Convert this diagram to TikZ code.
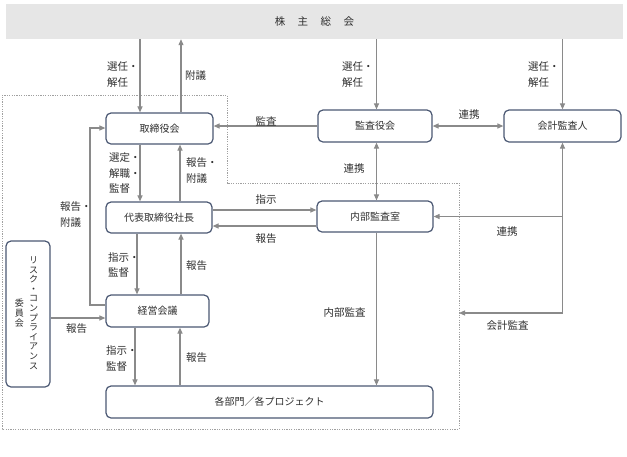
\documentclass[tikz,border=0pt]{standalone}
\usepackage{fontspec}
\setmainfont{Noto Sans CJK JP}
\usetikzlibrary{arrows.meta}
\definecolor{boxline}{HTML}{4B5873}
\definecolor{arrgray}{HTML}{8A8A8A}
\definecolor{txt}{HTML}{2E2E2E}
\definecolor{barfill}{HTML}{E6E6E6}
\definecolor{dotgray}{HTML}{A0A0A0}
\tikzset{
  orgbox/.style={draw=boxline, line width=1.2pt, rounded corners=5pt, fill=white,
    text=txt, font=\fontsize{10}{12}\selectfont, inner sep=0pt},
  arr/.style={draw=arrgray, line width=1.1pt, -{Triangle[length=6pt,width=5pt]}},
  arrb/.style={draw=arrgray, line width=1.1pt, {Triangle[length=6pt,width=5pt]}-{Triangle[length=6pt,width=5pt]}},
  lbl/.style={text=txt, font=\fontsize{10.5}{15.5}\selectfont, inner sep=0pt, align=left},
  vtxt/.style={text=txt, font=\fontsize{9}{9.6}\selectfont, inner sep=0pt, align=center},
}
\begin{document}
\begin{tikzpicture}[x=1pt,y=-1pt]
\useasboundingbox (0,0) rectangle (627,456);
% dotted company boundary
\draw[dotgray, line width=0.8pt, dash pattern=on 1.2pt off 1.2pt]
  (2,95) -- (227,95) -- (227,183) -- (459,183) -- (459,429) -- (2,429) -- cycle;
% top bar
\node[fill=barfill, minimum width=617pt, minimum height=35pt, inner sep=0pt,
  text=txt, font=\fontsize{10.5}{12}\selectfont] (bar) at (314.5,21.5)
  {株\hspace{12.5pt}主\hspace{12.5pt}総\hspace{12.5pt}会};
% boxes
\node[orgbox, minimum width=107pt, minimum height=31pt] (torishimari) at (159.5,128.5) {取締役会};
\node[orgbox, minimum width=106pt, minimum height=31pt] (shacho) at (159,217.5) {代表取締役社長};
\node[orgbox, minimum width=114pt, minimum height=32pt] (kansayaku) at (375,126) {監査役会};
\node[orgbox, minimum width=117pt, minimum height=32pt] (kaikei) at (562.5,126) {会計監査人};
\node[orgbox, minimum width=116pt, minimum height=31pt] (naibu) at (375,216.5) {内部監査室};
\node[orgbox, minimum width=103pt, minimum height=32pt] (keiei) at (157.5,311) {経営会議};
\node[orgbox, minimum width=327pt, minimum height=32pt] (kakubu) at (269.5,402) {各部門／各プロジェクト};
\node[orgbox, minimum width=44pt, minimum height=146pt] (risk) at (28,314) {};
\node[vtxt] (riskA) at (33.5,313) {リ\\ス\\ク\\・\\コ\\ン\\プ\\ラ\\イ\\ア\\ン\\ス};
\node[vtxt, font=\fontsize{9}{10}\selectfont] (riskB) at (19.5,313) {委\\員\\会};
% connectors
\draw[arr] (140,0 |- bar.south) -- (140,0 |- torishimari.north);
\draw[arr] (181,0 |- torishimari.north) -- (181,0 |- bar.south);
\draw[arr] (376.5,0 |- bar.south) -- (376.5,0 |- kansayaku.north);
\draw[arr] (562.5,0 |- bar.south) -- (kaikei.north);
\draw[arr] (kansayaku.west) -- (torishimari.east |- kansayaku.west);
\draw[arrb] (kansayaku.east) -- (kaikei.west);
\draw[arrb] (376.5,0 |- kansayaku.south) -- (376.5,0 |- naibu.north);
\coordinate (kj) at (562.5,216.5);
\coordinate (edge) at (459,313);
\draw[arr] (kj) -- (naibu.east);
\draw[arrb] (kaikei.south) -- (562.5,313) -- (edge);
\draw[arr] (140,0 |- torishimari.south) -- (140,0 |- shacho.north);
\draw[arr] (180,0 |- shacho.north) -- (180,0 |- torishimari.south);
\draw[arr] (shacho.east |- 0,210) -- (naibu.west |- 0,210);
\draw[arr] (naibu.west |- 0,226) -- (shacho.east |- 0,226);
\draw[arr] (137,0 |- shacho.south) -- (137,0 |- keiei.north);
\draw[arr] (181,0 |- keiei.north) -- (181,0 |- shacho.south);
\draw[arr] (135,0 |- keiei.south) -- (135,0 |- kakubu.north);
\draw[arr] (180,0 |- kakubu.north) -- (180,0 |- keiei.south);
\draw[arr] (keiei.west |- 0,305) -- (90,305) -- (90,128) -- (torishimari.west |- 0,128);
\draw[arr] (risk.east |- 0,318) -- (keiei.west |- 0,318);
\draw[arr] (376.5,0 |- naibu.south) -- (376.5,0 |- kakubu.north);
% labels
\node[lbl, anchor=west] (l1) at (107,74.5) {選任・\\解任};
\node[lbl, anchor=west] (l2) at (185,76) {附議};
\node[lbl, anchor=west] (l3) at (342,74.5) {選任・\\解任};
\node[lbl, anchor=west] (l4) at (528,74.5) {選任・\\解任};
\node[lbl] (l5) at (266,121) {監査};
\node[lbl] (l6) at (469,115) {連携};
\node[lbl] (l7) at (354,169) {連携};
\node[lbl, anchor=west] (l8) at (109,173.5) {選定・\\解職・\\監督};
\node[lbl, anchor=west] (l9) at (186,170.5) {報告・\\附議};
\node[lbl, anchor=west] (l10) at (60,214.5) {報告・\\附議};
\node[lbl] (l11) at (266,200) {指示};
\node[lbl] (l12) at (266,239) {報告};
\node[lbl] (l13) at (507,232) {連携};
\node[lbl, anchor=west] (l14) at (108,265) {指示・\\監督};
\node[lbl] (l15) at (196.5,266) {報告};
\node[lbl] (l16) at (76.5,329) {報告};
\node[lbl, anchor=west] (l17) at (106,358.5) {指示・\\監督};
\node[lbl] (l18) at (196.5,358) {報告};
\node[lbl] (l19) at (344.5,313) {内部監査};
\node[lbl] (l20) at (507.5,326) {会計監査};
\end{tikzpicture}
\end{document}
